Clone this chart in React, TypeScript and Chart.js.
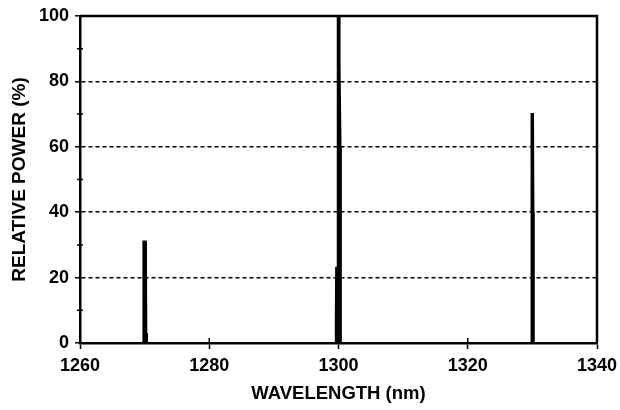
import React, { useEffect, useRef } from "react";
import { Chart, registerables } from "chart.js";

Chart.register(...registerables);

// Spectrum trace: wavelength (nm) and relative power (%)
const wavelength = [
  1260,
  1269.75, 1269.8, 1269.85, 1270.15, 1270.2, 1270.25, 1270.35,
  1299.55, 1299.6, 1299.65, 1299.85, 1299.9, 1300.1, 1300.15, 1300.3, 1300.35, 1300.35,
  1329.8, 1329.85, 1329.92, 1330.08, 1330.15, 1330.2,
  1340,
];
const power = [
  0,
  0, 3, 31, 31, 23, 3, 0,
  0, 8, 23, 23, 100, 100, 85, 60, 23, 0,
  0, 40, 70, 70, 40, 0,
  0,
];

const xTicks = [1260, 1280, 1300, 1320, 1340];
const yTicks = [0, 20, 40, 60, 80, 100];
const yMinorTicks = [10, 30, 50, 70, 90];

const FONT = "'Liberation Sans', Arial, sans-serif";

const framePlugin = {
  id: "frame",
  afterDraw(chart: any) {
    const { ctx, chartArea } = chart;
    const { left, right, top, bottom } = chartArea;
    const xs = chart.scales.x;
    const ys = chart.scales.y;
    ctx.save();
    ctx.strokeStyle = "#000";
    ctx.lineWidth = 2.5;
    ctx.setLineDash([]);
    ctx.beginPath();
    ctx.moveTo(left, top);
    ctx.lineTo(right, top);
    ctx.lineTo(right, bottom);
    ctx.stroke();
    ctx.lineWidth = 1.5;
    ctx.beginPath();
    xTicks.forEach((v) => {
      const px = xs.getPixelForValue(v);
      ctx.moveTo(px, bottom - 5);
      ctx.lineTo(px, bottom);
    });
    yMinorTicks.forEach((v) => {
      const py = ys.getPixelForValue(v);
      ctx.moveTo(left - 3, py);
      ctx.lineTo(left + 3, py);
    });
    ctx.stroke();
    ctx.restore();
  },
};

export default function App() {
  const ref = useRef<HTMLCanvasElement | null>(null);

  useEffect(() => {
    document.body.style.margin = "0";
    const canvas = ref.current;
    if (!canvas) return;
    const data = wavelength.map((w, i) => ({ x: w, y: power[i] }));
    const chart = new Chart(canvas, {
      type: "line",
      data: {
        datasets: [
          {
            data,
            borderColor: "#000",
            backgroundColor: "#000",
            borderWidth: 2.2,
            fill: "origin",
            pointRadius: 0,
            tension: 0,
          },
        ],
      },
      options: {
        animation: false,
        responsive: false,
        maintainAspectRatio: false,
        layout: { padding: { left: 0, right: 23, top: 16, bottom: 0 } },
        plugins: {
          legend: { display: false },
          tooltip: { enabled: false },
        },
        scales: {
          x: {
            type: "linear",
            min: 1260,
            max: 1340,
            afterBuildTicks: (scale: any) => {
              scale.ticks = xTicks.map((v) => ({ value: v }));
            },
            afterFit: (scale: any) => {
              scale.height = 67;
              scale.paddingLeft = 0;
              scale.paddingRight = 0;
            },
            ticks: {
              color: "#000",
              font: { family: FONT, size: 18, weight: "bold" },
              padding: 6,
              maxRotation: 0,
              callback: (v: any) => String(v),
            },
            grid: {
              drawOnChartArea: false,
              drawTicks: true,
              tickLength: 6,
              tickColor: "#000",
              tickWidth: 1.5,
            },
            border: { display: true, color: "#000", width: 2.5 },
            title: {
              display: true,
              text: "WAVELENGTH (nm)",
              color: "#000",
              font: { family: FONT, size: 18.5, weight: "bold" },
              padding: { top: 0, bottom: 5 },
            },
          },
          y: {
            type: "linear",
            min: 0,
            max: 100,
            afterBuildTicks: (scale: any) => {
              scale.ticks = yTicks.map((v) => ({ value: v }));
            },
            afterFit: (scale: any) => {
              scale.width = 80;
              scale.paddingTop = 0;
              scale.paddingBottom = 0;
            },
            ticks: {
              color: "#000",
              font: { family: FONT, size: 18, weight: "bold" },
              padding: 6,
              callback: (v: any) => String(v),
            },
            grid: {
              color: (c: any) =>
                c.tick && (c.tick.value === 0 || c.tick.value === 100) ? "rgba(0,0,0,0)" : "#000",
              lineWidth: 1.6,
              drawTicks: true,
              tickLength: 5,
              tickColor: "#000",
              tickWidth: 1.5,
            },
            border: { display: true, color: "#000", width: 2.5, dash: [4, 3] },
            title: {
              display: true,
              text: "RELATIVE POWER (%)",
              color: "#000",
              font: { family: FONT, size: 19, weight: "bold" },
              padding: { top: 8, bottom: 0 },
            },
          },
        },
      },
      plugins: [framePlugin],
    });
    return () => chart.destroy();
  }, []);

  return (
    <div style={{ width: 620, height: 410, background: "#fff" }}>
      <canvas ref={ref} width={620} height={410} style={{ display: "block" }} />
    </div>
  );
}
